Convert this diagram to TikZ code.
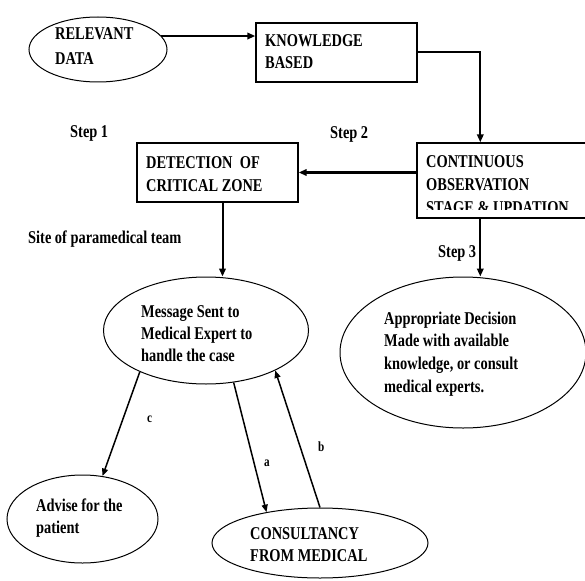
\documentclass[tikz,border=0pt]{standalone}
\usepackage{fontspec}
\setmainfont{Liberation Serif}[FakeStretch=0.8]
\usetikzlibrary{arrows.meta,calc,shapes.geometric}

% several lines of text, first baseline at the node's base anchor
\newcommand\textlines[2]{{\fontsize{18}{#1}\selectfont\begin{tabular}[t]{@{}l@{}}#2\end{tabular}}}

\begin{document}
\begin{tikzpicture}[x=1pt,y=-1pt,
  boxnode/.style={draw=black,line width=1.4pt,rectangle,inner sep=0pt},
  ovalnode/.style={draw=black,line width=1pt,ellipse,inner sep=0pt},
  txt/.style={inner sep=0pt,anchor=base west,font=\bfseries\fontsize{18}{23}\selectfont},
  letter/.style={inner sep=0pt,anchor=base west,font=\bfseries\fontsize{14}{16}\selectfont},
  flow/.style={line width=2pt,-{Triangle[length=8pt,width=6.5pt]}},
  link/.style={line width=1.5pt,-{Triangle[length=7.5pt,width=6pt]}}]

\useasboundingbox (0,0) rectangle (585,580);
\fill[white] (0,0) rectangle (585,580);

% shapes
\node[ovalnode, minimum width=138, minimum height=65] (rel) at (98,49.5) {};
\node[boxnode, minimum width=161, minimum height=59] (know) at (336.5,52.5) {};
\node[boxnode, minimum width=161, minimum height=59] (det) at (217.5,172.5) {};
\node[boxnode, minimum width=183, minimum height=75] (cont) at (508.5,180.5) {};
\node[ovalnode, minimum width=205, minimum height=107] (msg) at (206,330.5) {};
\node[ovalnode, minimum width=246, minimum height=151] (dec) at (463,352.5) {};
\node[ovalnode, minimum width=151, minimum height=88] (adv) at (82.5,519) {};
\node[ovalnode, minimum width=216, minimum height=70] (cons) at (320,543) {};

% texts inside the shapes
\node[txt] (relT) at (55,40) {\textlines{25}{RELEVANT\\DATA}};
\node[txt] (knowT) at (265,46.7) {\textlines{21.7}{KNOWLEDGE\\BASED}};
\node[txt] (detT) at (146,168.3) {\textlines{23.4}{DETECTION\ \ OF\\CRITICAL ZONE}};
\begin{scope}
  \clip (417,143) rectangle (600,209.5);
  \node[txt] (contT) at (426,167.3) {\textlines{23}{CONTINUOUS\\OBSERVATION\\STAGE \& UPDATION}};
\end{scope}
\node[txt] (msgT) at (141,317.3) {\textlines{22.2}{Message Sent to\\Medical Expert to\\handle the case}};
\node[txt] (decT) at (384,324) {\textlines{22.9}{Appropriate Decision\\Made with available\\knowledge, or consult\\medical experts.}};
\node[txt] (advT) at (36,511.7) {\textlines{21.7}{Advise for the\\patient}};
\node[txt] (consT) at (250,539.3) {\textlines{21.7}{CONSULTANCY\\FROM MEDICAL}};

% step captions
\node[txt] (step1) at (70,137.3) {Step 1};
\node[txt] (step2) at (330,138.3) {Step 2};
\node[txt] (step3) at (438,257.3) {Step 3};
\node[txt] (site) at (28,243.3) {Site of paramedical team};

% connectors
\coordinate (feed) at ($(cont.north west)+(64,0)$);
\coordinate (tap) at ($(cont.south west)+(64,0)$);
\draw[flow, line width=2.2pt] (rel.12) -- (rel.12 -| know.west);
\draw[flow] (know.east) -| (feed);
\draw[flow, line width=2.8pt] (det.east -| cont.west) -- (det.east);
\draw[flow] ([xshift=5pt]det.south) -- ([xshift=5pt]det.south |- msg.north);
\draw[flow, line width=2.2pt] (tap) -- (tap |- dec.north);

\draw[link] (msg.212) -- (adv.65);
\draw[link] (msg.298) -- (cons.150);
\draw[link] (cons.90) -- (msg.330);

% connector letters
\node[letter] (lc) at (147,422.7) {c};
\node[letter] (la) at (264,466.7) {a};
\node[letter] (lb) at (318,451.7) {b};
\end{tikzpicture}
\end{document}
